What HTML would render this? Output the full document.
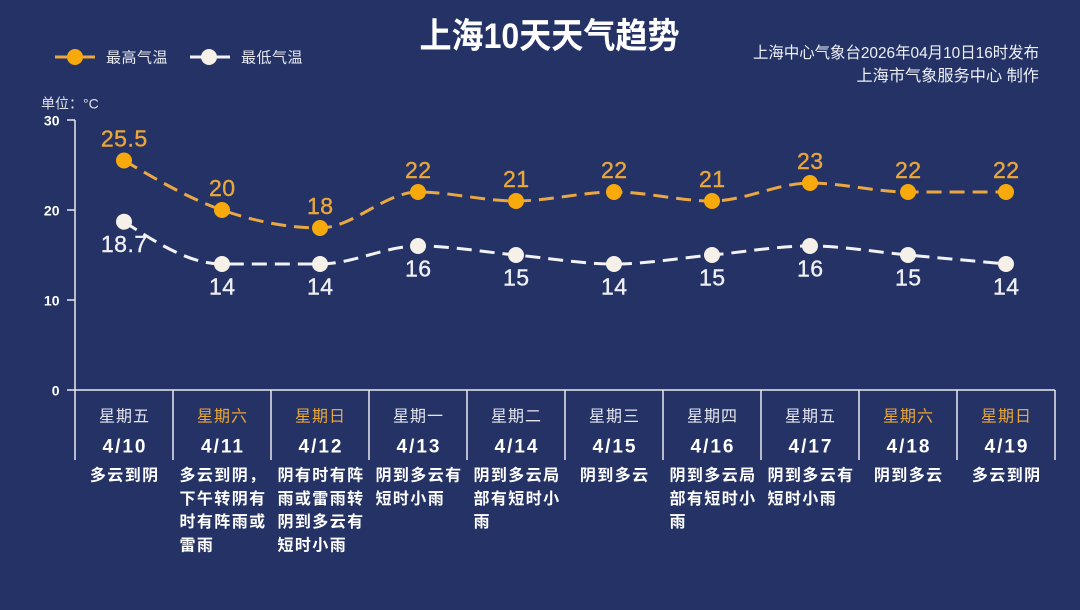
<!DOCTYPE html>
<html><head><meta charset="utf-8"><style>
html,body{margin:0;padding:0;background:#243265;}
svg{display:block;}
text{font-family:"Liberation Sans","Noto Sans CJK SC",sans-serif;}
</style></head><body>
<svg width="1080" height="610" viewBox="0 0 1080 610" xmlns="http://www.w3.org/2000/svg">
<rect width="1080" height="610" fill="#243265"/>
<!-- Title -->
<text x="419.5" y="48" font-size="35" font-weight="bold" fill="#ffffff" textLength="260" lengthAdjust="spacingAndGlyphs">上海10天天气趋势</text>
<!-- Right info -->
<text x="753" y="58" font-size="16" fill="#eef0f6" textLength="286" lengthAdjust="spacingAndGlyphs">上海中心气象台2026年04月10日16时发布</text>
<text x="856.5" y="81" font-size="16" fill="#eef0f6" textLength="182.5" lengthAdjust="spacingAndGlyphs">上海市气象服务中心 制作</text>
<!-- Legend -->
<line x1="55" y1="57" x2="95" y2="57" stroke="#E9A844" stroke-width="3"/>
<circle cx="75" cy="57" r="8" fill="#F8A90B"/>
<text x="106" y="62.5" font-size="15" letter-spacing="0.5" fill="#e6e8f0">最高气温</text>
<line x1="190" y1="57" x2="230" y2="57" stroke="#f2f2f5" stroke-width="3"/>
<circle cx="209" cy="57" r="8" fill="#F5F0E8"/>
<text x="241" y="62.5" font-size="15" letter-spacing="0.5" fill="#e6e8f0">最低气温</text>
<!-- Unit -->
<text x="41" y="108.5" font-size="14" fill="#dfe2ea">单位：°C</text>
<!-- Axes -->
<g stroke="#e8e9f0" stroke-width="1.5" fill="none">
<line x1="75" y1="120" x2="75" y2="460"/>
<line x1="67" y1="120" x2="75" y2="120"/>
<line x1="67" y1="210" x2="75" y2="210"/>
<line x1="67" y1="300" x2="75" y2="300"/>
<line x1="67" y1="390" x2="1055" y2="390"/>
<line x1="173" y1="390" x2="173" y2="460"/>
<line x1="271" y1="390" x2="271" y2="460"/>
<line x1="369" y1="390" x2="369" y2="460"/>
<line x1="467" y1="390" x2="467" y2="460"/>
<line x1="565" y1="390" x2="565" y2="460"/>
<line x1="663" y1="390" x2="663" y2="460"/>
<line x1="761" y1="390" x2="761" y2="460"/>
<line x1="859" y1="390" x2="859" y2="460"/>
<line x1="957" y1="390" x2="957" y2="460"/>
<line x1="1055" y1="390" x2="1055" y2="460"/>
</g>
<g font-size="14" font-weight="bold" fill="#ffffff" text-anchor="end">
<text x="59.5" y="125.7">30</text>
<text x="59.5" y="215.7">20</text>
<text x="59.5" y="305.7">10</text>
<text x="59.5" y="395.5">0</text>
</g>
<!-- High line -->
<path d="M124,160.5 C156.67,179.625 189.33,198.75 222,210 C254.67,221.25 287.33,228 320,228 C352.67,228 385.33,192 418,192 C450.67,192 483.33,201 516,201 C548.67,201 581.33,192 614,192 C646.67,192 679.33,201 712,201 C744.67,201 777.33,183 810,183 C842.67,183 875.33,192 908,192 C940.67,192 973.33,192 1006,192" fill="none" stroke="#E9A844" stroke-width="3" stroke-dasharray="15 8"/>
<!-- Low line -->
<path d="M124,221.7 C156.67,242.85 189.33,264 222,264 C254.67,264 287.33,264 320,264 C352.67,264 385.33,246 418,246 C450.67,246 483.33,252 516,255 C548.67,258 581.33,264 614,264 C646.67,264 679.33,258 712,255 C744.67,252 777.33,246 810,246 C842.67,246 875.33,252 908,255 C940.67,258 973.33,261 1006,264" fill="none" stroke="#f2f2f5" stroke-width="3" stroke-dasharray="15 8"/>
<!-- High markers -->
<g fill="#F8A90B">
<circle cx="124" cy="160.5" r="8"/><circle cx="222" cy="210" r="8"/><circle cx="320" cy="228" r="8"/><circle cx="418" cy="192" r="8"/><circle cx="516" cy="201" r="8"/><circle cx="614" cy="192" r="8"/><circle cx="712" cy="201" r="8"/><circle cx="810" cy="183" r="8"/><circle cx="908" cy="192" r="8"/><circle cx="1006" cy="192" r="8"/>
</g>
<g fill="#F5F0E8">
<circle cx="124" cy="221.7" r="8"/><circle cx="222" cy="264" r="8"/><circle cx="320" cy="264" r="8"/><circle cx="418" cy="246" r="8"/><circle cx="516" cy="255" r="8"/><circle cx="614" cy="264" r="8"/><circle cx="712" cy="255" r="8"/><circle cx="810" cy="246" r="8"/><circle cx="908" cy="255" r="8"/><circle cx="1006" cy="264" r="8"/>
</g>
<!-- High labels -->
<g font-size="23" fill="#E9A63A" stroke="#E9A63A" stroke-width="0.4" text-anchor="middle" letter-spacing="0.5">
<text x="124.25" y="146.5">25.5</text>
<text x="222.25" y="196">20</text>
<text x="320.25" y="214">18</text>
<text x="418.25" y="178">22</text>
<text x="516.25" y="187">21</text>
<text x="614.25" y="178">22</text>
<text x="712.25" y="187">21</text>
<text x="810.25" y="169">23</text>
<text x="908.25" y="178">22</text>
<text x="1006.25" y="178">22</text>
</g>
<!-- Low labels -->
<g font-size="23" fill="#eeeef4" stroke="#eeeef4" stroke-width="0.4" text-anchor="middle" letter-spacing="0.5">
<text x="124.25" y="252.2">18.7</text>
<text x="222.25" y="294.7">14</text>
<text x="320.25" y="294.7">14</text>
<text x="418.25" y="276.7">16</text>
<text x="516.25" y="285.7">15</text>
<text x="614.25" y="294.7">14</text>
<text x="712.25" y="285.7">15</text>
<text x="810.25" y="276.7">16</text>
<text x="908.25" y="285.7">15</text>
<text x="1006.25" y="294.7">14</text>
</g>
<!-- Weekdays -->
<g font-size="16" text-anchor="middle" letter-spacing="1">
<text x="124.5" y="421.5" fill="#e4e6ee">星期五</text>
<text x="222.5" y="421.5" fill="#E9A63A">星期六</text>
<text x="320.5" y="421.5" fill="#E9A63A">星期日</text>
<text x="418.5" y="421.5" fill="#e4e6ee">星期一</text>
<text x="516.5" y="421.5" fill="#e4e6ee">星期二</text>
<text x="614.5" y="421.5" fill="#e4e6ee">星期三</text>
<text x="712.5" y="421.5" fill="#e4e6ee">星期四</text>
<text x="810.5" y="421.5" fill="#e4e6ee">星期五</text>
<text x="908.5" y="421.5" fill="#E9A63A">星期六</text>
<text x="1006.5" y="421.5" fill="#E9A63A">星期日</text>
</g>
<!-- Dates -->
<g font-size="19" font-weight="bold" fill="#ffffff" text-anchor="middle" letter-spacing="2">
<text x="125" y="452.5">4/10</text>
<text x="223" y="452.5">4/11</text>
<text x="321" y="452.5">4/12</text>
<text x="419" y="452.5">4/13</text>
<text x="517" y="452.5">4/14</text>
<text x="615" y="452.5">4/15</text>
<text x="713" y="452.5">4/16</text>
<text x="811" y="452.5">4/17</text>
<text x="909" y="452.5">4/18</text>
<text x="1007" y="452.5">4/19</text>
</g>
<!-- Weather descriptions -->
<g font-size="16" font-weight="bold" fill="#ffffff" letter-spacing="1.4">
<text x="124.7" y="480.5" text-anchor="middle">多云到阴</text>
<text x="179.5" y="480.5">多云到阴，</text>
<text x="179.5" y="503.8">下午转阴有</text>
<text x="179.5" y="527">时有阵雨或</text>
<text x="179.5" y="550.3">雷雨</text>
<text x="277.5" y="480.5">阴有时有阵</text>
<text x="277.5" y="503.8">雨或雷雨转</text>
<text x="277.5" y="527">阴到多云有</text>
<text x="277.5" y="550.3">短时小雨</text>
<text x="375.5" y="480.5">阴到多云有</text>
<text x="375.5" y="503.8">短时小雨</text>
<text x="473.5" y="480.5">阴到多云局</text>
<text x="473.5" y="503.8">部有短时小</text>
<text x="473.5" y="527">雨</text>
<text x="614.7" y="480.5" text-anchor="middle">阴到多云</text>
<text x="669.5" y="480.5">阴到多云局</text>
<text x="669.5" y="503.8">部有短时小</text>
<text x="669.5" y="527">雨</text>
<text x="767.5" y="480.5">阴到多云有</text>
<text x="767.5" y="503.8">短时小雨</text>
<text x="908.7" y="480.5" text-anchor="middle">阴到多云</text>
<text x="1006.7" y="480.5" text-anchor="middle">多云到阴</text>
</g>
</svg>
</body></html>
